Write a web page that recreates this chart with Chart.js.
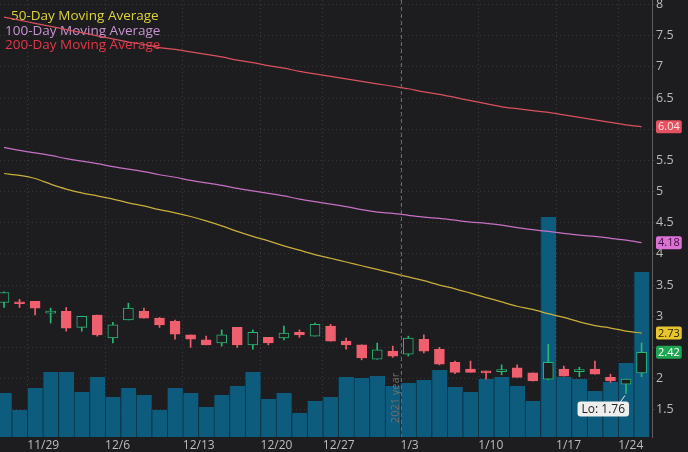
<!DOCTYPE html>
<html>
<head>
<meta charset="utf-8">
<script src="https://cdn.jsdelivr.net/npm/chart.js@4"></script>
<style>
  html, body { margin: 0; padding: 0; background: #1d1d1f; }
  canvas { display: block; }
</style>
</head>
<body>
<canvas id="myChart" width="688" height="452"></canvas>
<script>
const ctx = document.getElementById("myChart").getContext("2d");

// week labels (sunday dates) and the candle index where each week starts
const weekLabels = ["11/29", "12/6", "12/13", "12/20", "12/27", "1/3", "1/10", "1/17", "1/24"];
const weekStarts = [2, 7, 12, 17, 21, 26, 31, 36, 40];
const yearStart = 26; // first candle of 2021

const opens  = [3.22, 3.22, 3.24, 3.05, 3.08, 2.82, 3.02, 2.65, 2.94, 3.08, 2.97, 2.92, 2.70, 2.62, 2.57, 2.82, 2.54, 2.66, 2.65, 2.74, 2.68, 2.84, 2.60, 2.54, 2.31, 2.44, 2.39, 2.63, 2.47, 2.26, 2.15, 2.12, 2.11, 2.17, 2.09, 1.99, 2.15, 2.11, 2.15, 2.02, 1.91, 2.09];
const highs  = [3.39, 3.27, 3.24, 3.13, 3.14, 3.00, 3.02, 2.90, 3.21, 3.13, 2.98, 2.94, 2.70, 2.68, 2.78, 2.82, 2.78, 2.66, 2.84, 2.78, 2.89, 2.87, 2.65, 2.54, 2.57, 2.52, 2.68, 2.70, 2.50, 2.28, 2.28, 2.12, 2.22, 2.22, 2.09, 2.55, 2.20, 2.18, 2.28, 2.07, 1.99, 2.57];
const lows   = [3.14, 3.14, 3.02, 2.89, 2.76, 2.76, 2.68, 2.57, 2.94, 2.97, 2.82, 2.63, 2.50, 2.54, 2.52, 2.50, 2.47, 2.54, 2.62, 2.66, 2.68, 2.60, 2.47, 2.30, 2.31, 2.34, 2.36, 2.41, 2.22, 2.08, 2.10, 1.99, 2.06, 2.02, 1.96, 1.98, 2.04, 2.03, 2.07, 1.94, 1.76, 2.03];
const closes = [3.38, 3.20, 3.13, 3.07, 2.81, 3.00, 2.70, 2.86, 3.13, 2.97, 2.86, 2.71, 2.63, 2.54, 2.70, 2.54, 2.74, 2.57, 2.73, 2.70, 2.87, 2.60, 2.54, 2.33, 2.46, 2.36, 2.65, 2.44, 2.23, 2.10, 2.10, 2.09, 2.12, 2.02, 1.96, 2.26, 2.04, 2.12, 2.07, 1.96, 1.99, 2.42];
// volume, thousands of shares
const volumes = [440, 270, 490, 650, 650, 450, 600, 400, 490, 420, 270, 490, 440, 300, 420, 510, 650, 380, 440, 240, 360, 400, 600, 590, 610, 510, 540, 570, 670, 500, 450, 580, 600, 510, 360, 2200, 600, 580, 460, 550, 740, 1650];

const ma50  = [5.29, 5.26, 5.21, 5.12, 5.04, 4.98, 4.93, 4.88, 4.82, 4.77, 4.71, 4.66, 4.60, 4.53, 4.45, 4.36, 4.28, 4.21, 4.13, 4.06, 3.99, 3.93, 3.87, 3.81, 3.75, 3.69, 3.63, 3.57, 3.50, 3.44, 3.37, 3.30, 3.23, 3.16, 3.11, 3.04, 2.98, 2.91, 2.85, 2.81, 2.76, 2.73];
const ma100 = [5.71, 5.66, 5.62, 5.58, 5.53, 5.49, 5.45, 5.40, 5.36, 5.32, 5.27, 5.23, 5.18, 5.14, 5.10, 5.05, 5.01, 4.97, 4.93, 4.88, 4.84, 4.80, 4.76, 4.71, 4.67, 4.65, 4.62, 4.59, 4.57, 4.54, 4.51, 4.49, 4.46, 4.42, 4.39, 4.36, 4.33, 4.30, 4.28, 4.25, 4.22, 4.18];
const ma200 = [7.80, 7.75, 7.70, 7.65, 7.60, 7.55, 7.50, 7.45, 7.40, 7.36, 7.31, 7.28, 7.24, 7.20, 7.16, 7.11, 7.07, 7.02, 6.98, 6.93, 6.89, 6.85, 6.81, 6.77, 6.73, 6.69, 6.65, 6.60, 6.56, 6.51, 6.46, 6.41, 6.36, 6.33, 6.30, 6.27, 6.23, 6.19, 6.15, 6.11, 6.07, 6.04];

const BG = "#1d1d1f";
const UP = "#2bb673";
const DOWN = "#ef5f6e";
const isUp = opens.map((o, i) => closes[i] >= o);

const maSeries = [
  { label: "50-Day Moving Average", data: ma50, line: "#c9ae3c", text: "#ddd23c", badge: "#e8c52c", badgeText: "#2a2200" },
  { label: "100-Day Moving Average", data: ma100, line: "#c66fc5", text: "#c893d2", badge: "#dd72d6", badgeText: "#3a1238" },
  { label: "200-Day Moving Average", data: ma200, line: "#d9515e", text: "#e33848", badge: "#e6525f", badgeText: "#fde0e2" },
];

// values shown in the right-hand badges; axis labels that collide with them are hidden
const badgeValues = maSeries.map(s => s.data[s.data.length - 1]).concat(closes[closes.length - 1]);

const overlay = {
  id: "overlay",
  beforeDatasetsDraw(chart) {
    const c = chart.ctx;
    c.save();
    c.font = '13.5px "Open Sans"';
    c.textBaseline = "middle";
    c.textAlign = "left";
    const pos = [[11, 16], [5, 31], [5, 45]];
    maSeries.forEach((s, k) => {
      c.fillStyle = s.text;
      c.fillText(s.label, pos[k][0], pos[k][1]);
    });
    c.restore();
  },
  afterDatasetsDraw(chart) {
    const c = chart.ctx;
    const x = chart.scales.x;
    const area = chart.chartArea;
    const px = Math.round(x.getPixelForValue(yearStart - 0.5)) + 0.5;
    c.save();
    c.strokeStyle = "#6a6a6a";
    c.lineWidth = 1;
    c.setLineDash([4, 3]);
    c.beginPath();
    c.moveTo(px, area.top);
    c.lineTo(px, area.bottom);
    c.stroke();
    c.setLineDash([]);
    c.translate(px - 6, 398);
    c.rotate(-Math.PI / 2);
    c.font = '11px "Open Sans"';
    c.fillStyle = "#6e6e6e";
    c.textAlign = "center";
    c.textBaseline = "middle";
    c.fillText("2021 year", 0, 0);
    c.restore();
  },
  afterDraw(chart) {
    const c = chart.ctx;
    const y = chart.scales.y;
    const x = chart.scales.x;
    const last = closes.length - 1;

    function badge(text, val, bg, fg) {
      c.font = '11px "Open Sans"';
      const w = c.measureText(text).width + 4;
      const h = 13;
      const top = y.getPixelForValue(val) - h / 2;
      c.fillStyle = bg;
      c.beginPath();
      c.roundRect(656, top, w, h, 2);
      c.fill();
      c.fillStyle = fg;
      c.textAlign = "left";
      c.textBaseline = "middle";
      c.fillText(text, 658, top + h / 2 + 0.5);
    }

    c.save();
    maSeries.forEach(s => {
      const v = s.data[last];
      badge(v.toFixed(2), v, s.badge, s.badgeText);
    });
    badge(closes[last].toFixed(2), closes[last], "#1fa552", "#ffffff");

    // lowest low label
    let lo = 0;
    lows.forEach((v, i) => { if (v < lows[lo]) lo = i; });
    const cx = x.getPixelForValue(lo);
    const cy = y.getPixelForValue(lows[lo]);
    c.font = '12px "Open Sans"';
    const txt = "Lo: " + lows[lo].toFixed(2);
    const w = c.measureText(txt).width + 8;
    const bx = cx + 3 - w;
    const by = cy + 8;
    c.strokeStyle = "#e8e8e8";
    c.lineWidth = 1;
    c.beginPath();
    c.moveTo(cx - 6, by + 1);
    c.lineTo(cx - 1, cy + 2);
    c.stroke();
    c.fillStyle = "#eeeeee";
    c.beginPath();
    c.roundRect(bx, by, w, 15, 3);
    c.fill();
    c.fillStyle = "#222222";
    c.textAlign = "center";
    c.textBaseline = "middle";
    c.fillText(txt, bx + w / 2, by + 8);
    c.restore();
  },
};

const data = {
  datasets: [
    ...maSeries.map(s => ({
      type: "line",
      label: s.label,
      data: s.data.map((v, i) => ({ x: i, y: v })),
      borderColor: s.line,
      borderWidth: 1.25,
      pointRadius: 0,
      tension: 0.3,
      yAxisID: "y",
      order: 3,
    })),
    {
      type: "bar",
      label: "Body",
      data: opens.map((o, i) => ({ x: i, y: [o, closes[i]] })),
      backgroundColor: isUp.map(u => (u ? BG : DOWN)),
      borderColor: isUp.map(u => (u ? UP : DOWN)),
      borderWidth: 1,
      borderSkipped: false,
      barThickness: 10,
      minBarLength: 2,
      grouped: false,
      yAxisID: "y",
      order: 1,
    },
    {
      type: "bar",
      label: "Wick",
      data: lows.map((l, i) => ({ x: i, y: [l, highs[i]] })),
      backgroundColor: isUp.map(u => (u ? UP : DOWN)),
      borderWidth: 0,
      barThickness: 1,
      grouped: false,
      yAxisID: "y",
      order: 2,
    },
    {
      type: "bar",
      label: "Volume",
      data: volumes.map((v, i) => ({ x: i, y: v })),
      backgroundColor: "#0d5c7e",
      borderColor: "#0a3447",
      borderWidth: { left: 1, right: 0, top: 0, bottom: 0 },
      borderSkipped: false,
      barPercentage: 1,
      categoryPercentage: 1,
      grouped: false,
      yAxisID: "v",
      order: 5,
    },
  ],
};

const config = {
  type: "bar",
  data: data,
  plugins: [overlay],
  options: {
    responsive: false,
    animation: false,
    layout: { padding: 0 },
    plugins: {
      legend: { display: false },
      tooltip: { enabled: false },
    },
    scales: {
      x: {
        type: "linear",
        min: -0.257,
        max: 41.67,
        offset: false,
        grid: { offset: false, color: "rgba(255,255,255,0.13)", drawTicks: false },
        border: { display: false, dash: [1, 3] },
        ticks: {
          color: "#bdbdbd",
          font: { family: "Open Sans", size: 12 },
          padding: 1,
          align: "start",
          autoSkip: false,
          maxRotation: 0,
          callback: (v, i) => weekLabels[i],
        },
        afterBuildTicks: scale => {
          scale.ticks = weekStarts.map(s => ({ value: s - 0.5 }));
        },
        afterFit: scale => {
          scale.height = 15;
          scale.paddingLeft = 0;
          scale.paddingRight = 0;
        },
      },
      y: {
        position: "right",
        min: 1.062,
        max: 8.074,
        grid: { color: "rgba(255,255,255,0.11)", tickLength: 3 },
        border: { display: true, color: "#5e5e5e", dash: [1, 3] },
        ticks: {
          stepSize: 0.5,
          includeBounds: false,
          color: "#bbbbbb",
          font: { family: "Open Sans", size: 12.5 },
          padding: 1,
          callback: v => (badgeValues.some(b => Math.abs(b - v) < 0.12) ? "" : String(Number(v.toFixed(2)))),
        },
        afterFit: scale => {
          scale.width = 36;
          scale.paddingTop = 0;
          scale.paddingBottom = 0;
        },
      },
      v: {
        display: false,
        min: 0,
        max: 4370,
      },
    },
  },
};

new Chart(ctx, config);
</script>
</body>
</html>
